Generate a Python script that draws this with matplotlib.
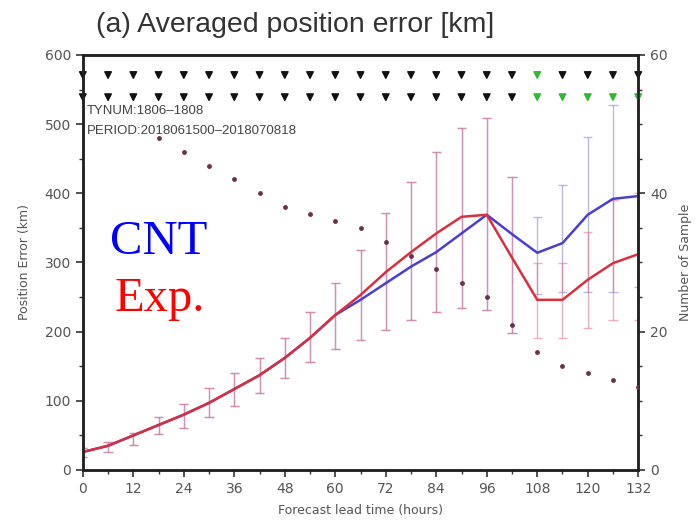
import numpy as np
import matplotlib
matplotlib.use('Agg')
import matplotlib.pyplot as plt
from matplotlib.ticker import MultipleLocator

# forecast hours
hours = [0, 6, 12, 18, 24, 30, 36, 42, 48, 54, 60, 66, 72, 78, 84, 90, 96, 102, 108, 114, 120, 126, 132]

# mean position error (km)
cnt = [26, 35, 50, 65, 80, 97, 117, 137, 162, 191, 224, 246, 270, 294, 315, 342, 369, 341, 314, 328, 369, 392, 396]
exp = [26, 35, 50, 65, 80, 97, 117, 137, 162, 191, 224, 253, 286, 315, 342, 366, 369, 307, 246, 246, 275, 299, 312]

# error bar ranges (km)
cnt_lo = [19, 26, 36, 52, 61, 77, 93, 111, 133, 156, 175, 188, 202, 217, 228, 234, 231, 198, 255, 257, 257, 257, 265]
cnt_hi = [32, 40, 53, 77, 95, 119, 140, 162, 191, 228, 270, 318, 371, 416, 460, 494, 509, 424, 366, 412, 481, 528, 540]
exp_lo = [19, 26, 36, 52, 61, 77, 93, 111, 133, 156, 175, 188, 202, 217, 228, 234, 231, 198, 191, 191, 205, 217, 217]
exp_hi = [32, 40, 53, 77, 95, 119, 140, 162, 191, 228, 270, 318, 371, 416, 460, 494, 509, 424, 299, 299, 344, 390, 400]

# number of samples (right axis)
n_hours = [18, 24, 30, 36, 42, 48, 54, 60, 66, 72, 78, 84, 90, 96, 102, 108, 114, 120, 126, 132]
n_sample = [48, 46, 44, 42, 40, 38, 37, 36, 35, 33, 31, 29, 27, 25, 21, 17, 15, 14, 13, 12]

# significance marks (1 = green)
sig_top = [0] * 18 + [1, 0, 0, 0, 0]
sig_bot = [0] * 18 + [1, 1, 1, 1, 1]

fig = plt.figure(figsize=(6.96, 5.26), dpi=100)
ax = fig.add_axes([0.119, 0.1065, 0.798, 0.789])

gray = '#555555'

def bars(lo, hi, color, alpha):
    h = np.array(hours)
    lo = np.array(lo)
    hi = np.array(hi)
    ax.vlines(h, lo, hi, color=color, lw=1.0, alpha=alpha, zorder=2)
    ax.hlines(lo, h - 1.1, h + 1.1, color=color, lw=1.0, alpha=alpha, zorder=2)
    ax.hlines(hi, h - 1.1, h + 1.1, color=color, lw=1.0, alpha=alpha, zorder=2)

bars(cnt_lo, cnt_hi, '#8080d8', 0.55)
bars(exp_lo, exp_hi, '#e87088', 0.55)

ax.plot(hours, cnt, color='#4a3fd0', lw=1.8, zorder=4)
ax.plot(hours, exp, color='#d8303e', lw=1.8, zorder=5)

# triangles
top_c = ['#33b833' if s else '#111111' for s in sig_top]
bot_c = ['#33b833' if s else '#111111' for s in sig_bot]
ax.scatter(hours, [571] * len(hours), marker='v', s=22, c=top_c, zorder=6, clip_on=False)
ax.scatter(hours, [539] * len(hours), marker='v', s=22, c=bot_c, zorder=6, clip_on=False)

ax.text(1, 519, 'TYNUM:1806\u20131808', fontsize=9.5, color='#444444', va='center',
        family='Liberation Sans')
ax.text(1, 490, 'PERIOD:2018061500\u20132018070818', fontsize=9.5, color='#444444', va='center',
        family='Liberation Sans')

ax.text(6.5, 312, 'CNT', fontsize=35, color='#0000ff', family='Liberation Serif')
ax.text(7.5, 230, 'Exp.', fontsize=35, color='#ff0000', family='Liberation Serif')

ax.set_xlim(0, 132)
ax.set_ylim(0, 600)
ax.set_xticks(hours[::2])
ax.xaxis.set_minor_locator(MultipleLocator(6))
ax.set_yticks(range(0, 601, 100))
ax.yaxis.set_minor_locator(MultipleLocator(50))
ax.tick_params(axis='both', which='major', labelsize=10, colors='#333333', labelcolor=gray, length=5, width=1.2)
ax.tick_params(axis='both', which='minor', length=3, width=1, colors='#333333')
for s in ax.spines.values():
    s.set_linewidth(1.8)
    s.set_color('#222222')
ax.set_xlabel('Forecast lead time (hours)', fontsize=9, color=gray, labelpad=6)
ax.set_ylabel('Position Error (km)', fontsize=9, color=gray, labelpad=10)

ax2 = ax.twinx()
ax2.set_ylim(0, 60)
ax2.set_yticks([0, 20, 40, 60])
ax2.yaxis.set_minor_locator(MultipleLocator(5))
ax2.scatter(n_hours, n_sample, s=6, color='#6a3048', zorder=3)
ax2.tick_params(axis='y', which='major', labelsize=10, colors='#333333', labelcolor=gray, length=5, width=1.2)
ax2.tick_params(axis='y', which='minor', length=3, width=1, colors='#333333')
for s in ax2.spines.values():
    s.set_linewidth(1.8)
    s.set_color('#222222')
ax2.set_ylabel('Number of Sample', fontsize=9, color=gray, labelpad=8)

fig.text(0.424, 0.953, '(a) Averaged position error [km]', fontsize=20.5, color='#333333',
         ha='center', va='center', family='Liberation Sans')

fig.savefig('out.png', dpi=100)
